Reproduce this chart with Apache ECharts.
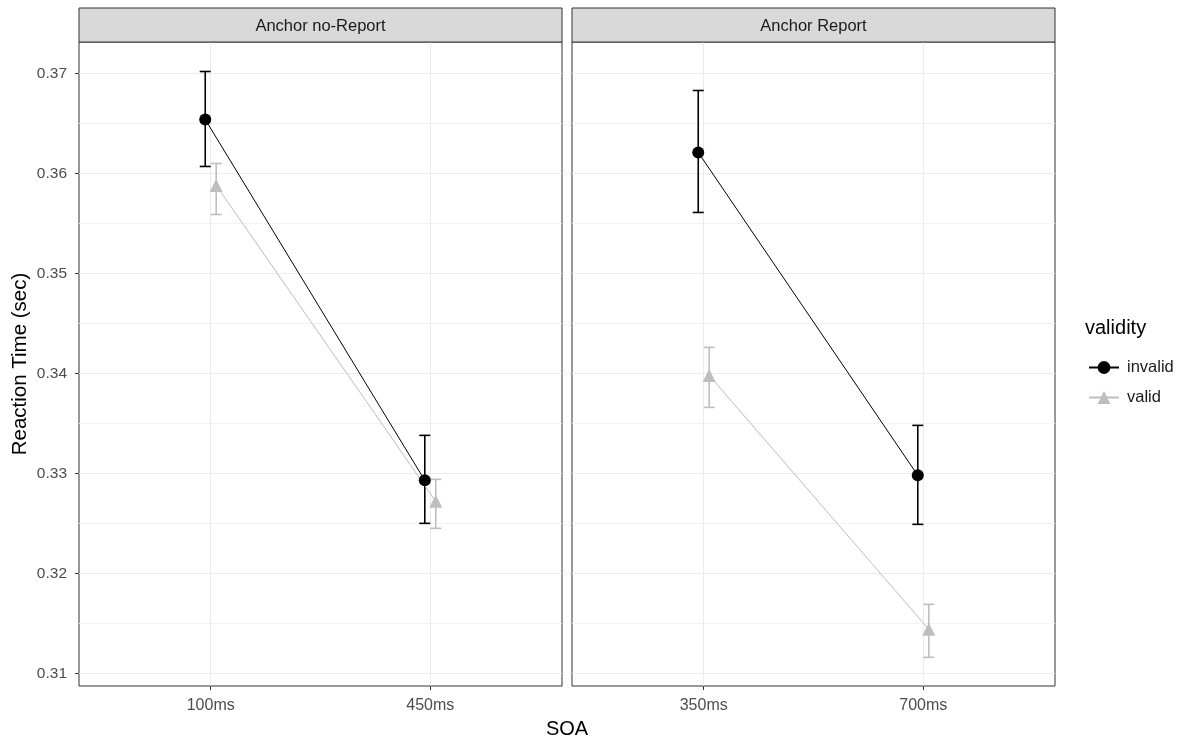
<!DOCTYPE html>
<html>
<head>
<meta charset="utf-8">
<script src="https://cdn.jsdelivr.net/npm/echarts@6/dist/echarts.min.js"></script>
<style>
  html, body { margin: 0; padding: 0; background: #ffffff; }
  #chart { width: 1184px; height: 738px; }
</style>
</head>
<body>
<div id="chart"></div>
<script>
// Facet titles and SOA levels for each panel
const panelTitles = ['Anchor no-Report', 'Anchor Report'];
const soaLevels = [['100ms', '450ms'], ['350ms', '700ms']];
const validityLevels = ['invalid', 'valid'];

// Mean reaction times (sec) per panel: [first SOA, second SOA]
const invalidMean = [[0.3654, 0.3293], [0.3621, 0.3298]];
const validMean   = [[0.3588, 0.3272], [0.3398, 0.3144]];
// Error bar limits per panel: [[low, high] first SOA, [low, high] second SOA]
const invalidErr = [[[0.3607, 0.3702], [0.3250, 0.3338]], [[0.3561, 0.3683], [0.3249, 0.3348]]];
const validErr   = [[[0.3559, 0.3610], [0.3245, 0.3294]], [[0.3366, 0.3426], [0.3116, 0.3169]]];

// Y axis labels and minor grid positions
const yTicks = [0.31, 0.32, 0.33, 0.34, 0.35, 0.36, 0.37];
const yMinor = [0.315, 0.325, 0.335, 0.345, 0.355, 0.365];

const FONT = 'Liberation Sans, Arial, sans-serif';
const DODGE = 0.025;     // half of the dodge width
const CAP = 0.05;        // error bar cap width in category units
const Y_MIN = 0.30873, Y_MAX = 0.37315;
const INVALID_COLOR = '#000000';
const VALID_COLOR = '#bebebe';

const grids = [
  { left: 79, top: 42, width: 483, height: 644 },
  { left: 572, top: 42, width: 483, height: 644 }
];

const xAxes = [], yAxes = [], series = [], graphics = [];

grids.forEach((g, p) => {
  xAxes.push({
    type: 'value', gridIndex: p, min: 0.4, max: 2.6,
    axisLine: { show: false },
    axisTick: { show: true, customValues: [1, 2], length: 4, lineStyle: { color: '#333333' } },
    axisLabel: {
      customValues: [1, 2], margin: 12, color: '#4d4d4d', fontFamily: FONT, fontSize: 16,
      formatter: v => soaLevels[p][Math.round(v) - 1]
    },
    splitLine: { show: true, lineStyle: { color: '#ebebeb', width: 1 } }
  });
  // major y axis: ticks, labels, major grid
  yAxes.push({
    type: 'value', gridIndex: p, min: Y_MIN, max: Y_MAX,
    axisLine: { show: false },
    axisTick: { show: p === 0, customValues: yTicks, length: 4, lineStyle: { color: '#333333' } },
    axisLabel: {
      show: p === 0, customValues: yTicks, margin: 12, color: '#4d4d4d', fontFamily: FONT, fontSize: 15.5,
      formatter: v => v.toFixed(2)
    },
    splitLine: { show: true, lineStyle: { color: '#ebebeb', width: 1 } },
    name: p === 0 ? 'Reaction Time (sec)' : '',
    nameLocation: 'middle', nameGap: 48,
    nameTextStyle: { color: '#000000', fontFamily: FONT, fontSize: 20.5 }
  });
  // minor y grid
  yAxes.push({
    type: 'value', gridIndex: p, min: Y_MIN, max: Y_MAX,
    axisLine: { show: false },
    axisTick: { show: false, customValues: yMinor },
    axisLabel: { show: false },
    splitLine: { show: true, lineStyle: { color: '#f3f3f3', width: 1 } }
  });

  const xi = p, yi = p * 2;
  const groups = [
    { name: 'invalid', mean: invalidMean[p], err: invalidErr[p], off: -DODGE, color: INVALID_COLOR, symbol: 'circle', size: 12 },
    { name: 'valid', mean: validMean[p], err: validErr[p], off: DODGE, color: VALID_COLOR, symbol: 'triangle', size: 13 }
  ];

  groups.forEach(gr => {
    // error bars
    series.push({
      type: 'custom', name: gr.name + '-err', xAxisIndex: xi, yAxisIndex: yi, z: 2,
      silent: true, legendHoverLink: false,
      encode: { x: 0, y: [1, 2] },
      data: gr.err.map((e, i) => [i + 1 + gr.off, e[0], e[1]]),
      renderItem: (params, api) => {
        const x = api.value(0);
        const lo = api.coord([x, api.value(1)]);
        const hi = api.coord([x, api.value(2)]);
        const half = api.size([CAP, 0])[0] / 2;
        const style = { stroke: gr.color, lineWidth: 1.6, fill: null };
        return {
          type: 'group',
          children: [
            { type: 'line', shape: { x1: lo[0], y1: lo[1], x2: hi[0], y2: hi[1] }, style },
            { type: 'line', shape: { x1: lo[0] - half, y1: lo[1], x2: lo[0] + half, y2: lo[1] }, style },
            { type: 'line', shape: { x1: hi[0] - half, y1: hi[1], x2: hi[0] + half, y2: hi[1] }, style }
          ]
        };
      }
    });
    // connecting line and points
    series.push({
      type: 'line', name: gr.name, xAxisIndex: xi, yAxisIndex: yi, z: 3,
      data: gr.mean.map((m, i) => [i + 1 + gr.off, m]),
      symbol: gr.symbol, symbolSize: gr.size, showSymbol: true,
      itemStyle: { color: gr.color },
      lineStyle: { color: gr.color, width: 1 },
      animation: false
    });
  });

  // facet strip
  graphics.push({
    type: 'rect', shape: { x: g.left, y: 8, width: g.width, height: 34 },
    style: { fill: '#d9d9d9', stroke: '#333333', lineWidth: 1 }, z: 10
  });
  graphics.push({
    type: 'text', x: g.left + g.width / 2, y: 26,
    style: { text: panelTitles[p], fill: '#1a1a1a', font: '16.5px ' + FONT, textAlign: 'center', textVerticalAlign: 'middle' },
    z: 11
  });
});

// x axis title and legend title
graphics.push({
  type: 'text', x: (grids[0].left + grids[1].left + grids[1].width) / 2, y: 729,
  style: { text: 'SOA', fill: '#000000', font: '20px ' + FONT, textAlign: 'center', textVerticalAlign: 'middle' }
});
graphics.push({
  type: 'text', x: 1085, y: 328,
  style: { text: 'validity', fill: '#000000', font: '20px ' + FONT, textAlign: 'left', textVerticalAlign: 'middle' }
});

const chart = echarts.init(document.getElementById('chart'), null, { renderer: 'canvas' });
chart.setOption({
  animation: false,
  backgroundColor: '#ffffff',
  grid: grids.map(g => Object.assign({ show: true, borderColor: '#333333', borderWidth: 1, backgroundColor: 'transparent', containLabel: false }, g)),
  xAxis: xAxes,
  yAxis: yAxes,
  legend: {
    data: validityLevels,
    orient: 'vertical', left: 1083, top: 354, itemGap: 13,
    itemWidth: 30, itemHeight: 16,
    textStyle: { color: '#1a1a1a', fontFamily: FONT, fontSize: 16.5, padding: [0, 0, 0, 3] },
    selectedMode: false
  },
  series: series,
  graphic: graphics
});
</script>
</body>
</html>
